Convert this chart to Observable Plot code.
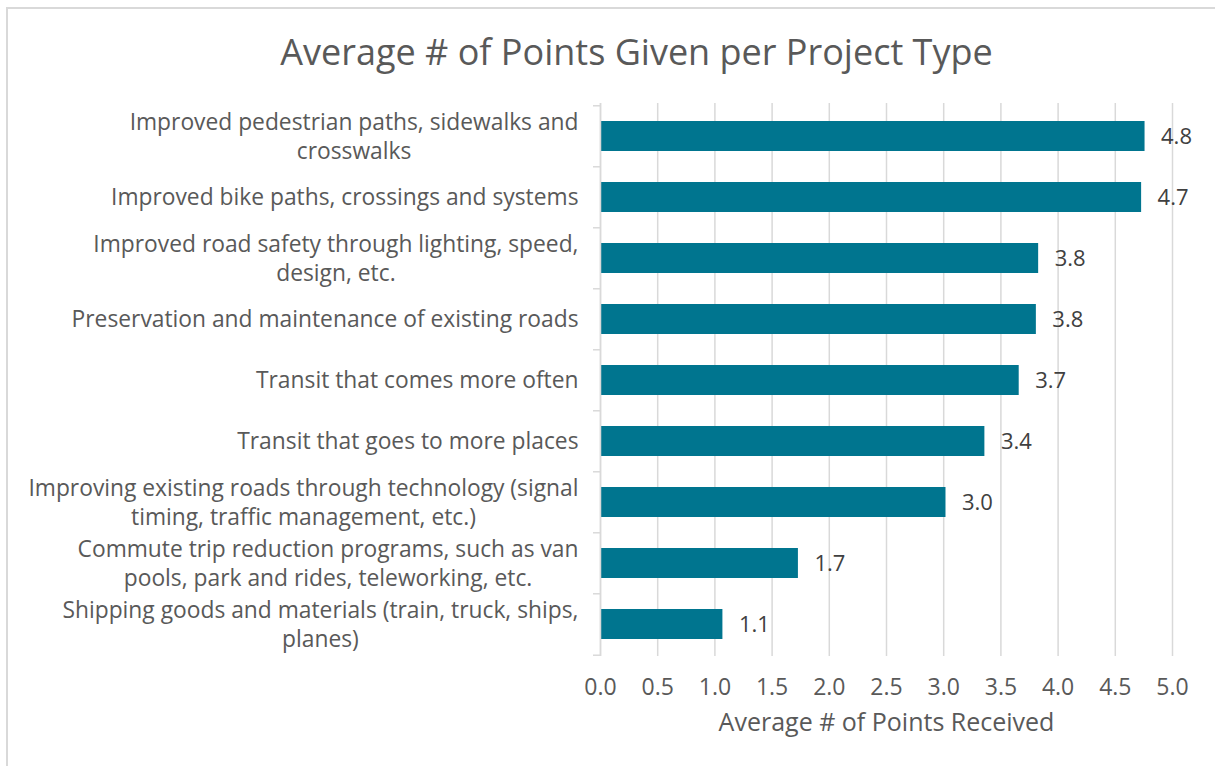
<!DOCTYPE html>
<html>
<head>
<meta charset="utf-8">
<script src="https://cdn.jsdelivr.net/npm/d3@7"></script>
<script src="https://cdn.jsdelivr.net/npm/@observablehq/plot@0.6"></script>
<style>
  html, body { margin: 0; padding: 0; background: #fff; }
  #wrap { position: relative; width: 1215px; height: 766px; overflow: hidden; font-family: "Open Sans", sans-serif; }
  #frame { position: absolute; left: 6px; top: 7px; right: -10px; bottom: -10px; border-top: 2px solid #d9d9d9; border-left: 2px solid #d9d9d9; pointer-events: none; }
  #title { height: 90px; padding-left: 58px; text-align: center; color: #595959; font-size: 36px; line-height: 104px; white-space: nowrap; }
  #chart svg { display: block; }
</style>
</head>
<body>
<div id="wrap">
  <div id="frame"></div>
  <div id="title">Average # of Points Given per Project Type</div>
  <div id="chart"></div>
</div>
<script>
const categories = [
  "Improved pedestrian paths, sidewalks and crosswalks",
  "Improved bike paths, crossings and systems",
  "Improved road safety through lighting, speed, design, etc.",
  "Preservation and maintenance of existing roads",
  "Transit that comes more often",
  "Transit that goes to more places",
  "Improving existing roads through technology (signal timing, traffic management, etc.)",
  "Commute trip reduction programs, such as van pools, park and rides, teleworking, etc.",
  "Shipping goods and materials (train, truck, ships, planes)"
];
const tickLabels = [
  "Improved pedestrian paths, sidewalks and\ncrosswalks",
  "Improved bike paths, crossings and systems",
  "Improved road safety through lighting, speed,\ndesign, etc.",
  "Preservation and maintenance of existing roads",
  "Transit that comes more often",
  "Transit that goes to more places",
  "Improving existing roads through technology (signal\ntiming, traffic management, etc.)",
  "Commute trip reduction programs, such as van\npools, park and rides, teleworking, etc.",
  "Shipping goods and materials (train, truck, ships,\nplanes)"
];
const values = [4.76, 4.73, 3.83, 3.81, 3.66, 3.36, 3.02, 1.73, 1.07];
const xTicks = [0, 0.5, 1, 1.5, 2, 2.5, 3, 3.5, 4, 4.5, 5];
const xLabel = "Average # of Points Received";

const data = categories.map((c, i) => ({category: c, value: values[i], label: tickLabels[i]}));
const labelOf = new Map(data.map(d => [d.category, d.label]));

const H = 676, MT = 13, MB = 110;
const step = (H - MT - MB) / categories.length;

const plot = Plot.plot({
  width: 1215,
  height: H,
  marginLeft: 600,
  marginRight: 43,
  marginTop: MT,
  marginBottom: MB,
  style: {fontFamily: "Open Sans, sans-serif", fontSize: "20px", color: "#595959", background: "transparent", overflow: "visible"},
  x: {domain: [0, 5]},
  y: {domain: categories, paddingInner: 0.51, paddingOuter: 0.255},
  marks: [
    Plot.gridX(xTicks, {stroke: "#d9d9d9", strokeOpacity: 1, strokeWidth: 1.5}),
    Plot.barX(data, {x: "value", y: "category", fill: "#00758f"}),
    Plot.ruleX([0], {stroke: "#d9d9d9", strokeWidth: 1.5}),
    Plot.axisY({tickSize: 7, tickFormat: () => "", dy: -step / 2, stroke: "#d9d9d9", strokeWidth: 1.5, label: null}),
    Plot.axisY([categories[categories.length - 1]], {tickSize: 7, tickFormat: () => "", dy: step / 2, stroke: "#d9d9d9", strokeWidth: 1.5, label: null}),
    Plot.axisY({tickSize: 0, tickPadding: 22, tickFormat: d => labelOf.get(d), lineHeight: 1.23, fontSize: 22.8, fill: "#595959", label: null, dy: -1}),
    Plot.axisX(xTicks, {tickSize: 0, tickPadding: 22, tickFormat: d => d.toFixed(1), fontSize: 23, fill: "#595959", label: null}),
    Plot.text([xLabel], {frameAnchor: "bottom", dy: 74, fontSize: 25, fill: "#595959"}),
    Plot.text(data, {x: "value", y: "category", text: d => d.value.toFixed(1), textAnchor: "start", dx: 16, fontSize: 22, fill: "#404040"})
  ]
});
document.getElementById("chart").appendChild(plot);

// center-align wrapped category labels (Excel style), right edge kept at the axis padding
plot.querySelectorAll('g[aria-label="y-axis tick label"] text').forEach(t => {
  if (!t.textContent) return;
  const w = t.getBBox().width;
  t.setAttribute("text-anchor", "middle");
  const tr = t.getAttribute("transform") || "";
  t.setAttribute("transform", tr + ` translate(${-w / 2},0)`);
});
</script>
</body>
</html>
